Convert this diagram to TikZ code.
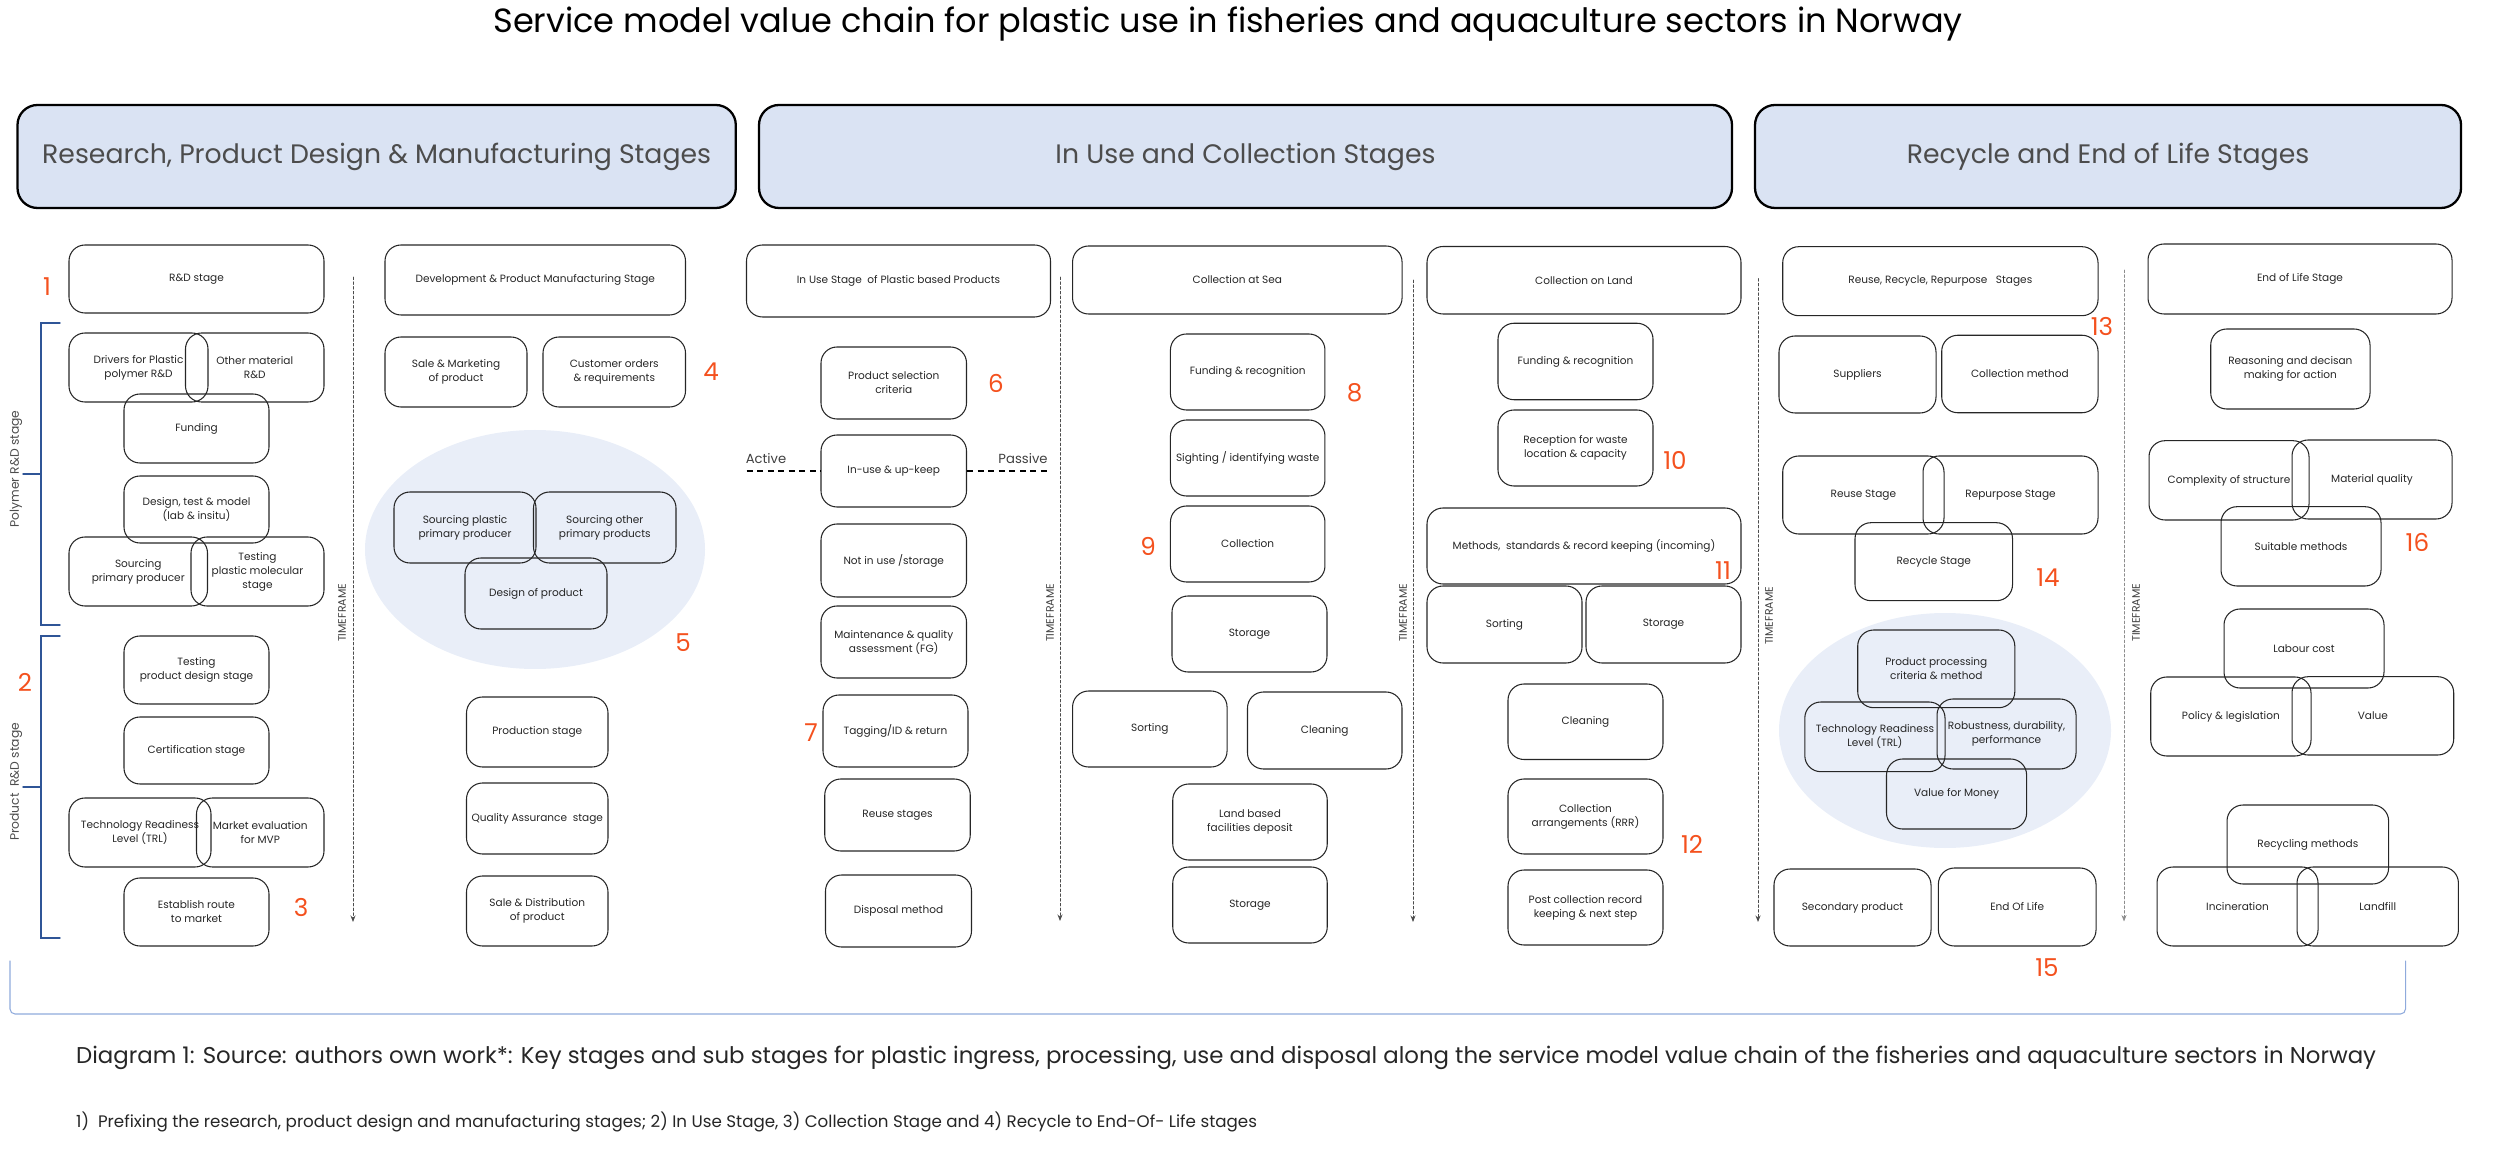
\documentclass[tikz,border=0pt]{standalone}
\usepackage{fontspec}
\setmainfont{Poppins}
\usepackage{tikz}
\usetikzlibrary{arrows.meta}
\usepackage{xcolor}
\definecolor{headfill}{HTML}{DAE3F3}
\definecolor{ovalfill}{HTML}{E9EEF8}
\definecolor{numred}{HTML}{F4511E}
\definecolor{braceblue}{HTML}{2F5597}
\definecolor{baseblue}{HTML}{8FAADC}

\begin{document}
\begin{tikzpicture}[>={Stealth[length=1.3mm,width=1mm]},line cap=round,
  stagebox/.style={draw=black!85,line width=0.6pt,rounded corners=0.32cm,align=center,text=black!85,font=\fontsize{6}{8}\selectfont,inner sep=1pt},
  headbox/.style={draw=black,line width=1.3pt,fill=headfill,rounded corners=0.4cm,text=black!70,font=\fontsize{15.2}{18}\selectfont},
  num/.style={text=numred,font=\fontsize{14}{16}\selectfont},
  timeline/.style={black!70,line width=0.45pt,dash pattern=on 1.5pt off 1.2pt},
  tflabel/.style={rotate=90,text=black!75,font=\fontsize{6.2}{8}\selectfont},
  sidelabel/.style={rotate=90,text=black!70,font=\fontsize{7}{8}\selectfont}]
\useasboundingbox (0,0) rectangle (50,23.14);
\node[anchor=base,font=\fontsize{19.1}{23}\selectfont] (title) at (24.56,22.48) {Service model value chain for plastic use in fisheries and aquaculture sectors in Norway};
\node[headbox,minimum width=14.366cm,minimum height=2.06cm] (hdresearch) at (7.533,20.01) {Research, Product Design \& Manufacturing Stages};
\node[headbox,minimum width=19.46cm,minimum height=2.06cm] (hdinuse) at (24.91,20.01) {In Use and Collection Stages};
\node[headbox,minimum width=14.12cm,minimum height=2.06cm] (hdrecycle) at (42.16,20.01) {Recycle and End of Life Stages};
% R&D column
\node[stagebox,minimum width=5.10cm,minimum height=1.36cm] (rd) at (3.93,17.56) {R\&D stage};
\node[stagebox,minimum width=2.78cm,minimum height=1.38cm] (drivers) at (2.77,15.79) {Drivers for Plastic\\polymer R\&D};
\node[stagebox,minimum width=2.77cm,minimum height=1.38cm] (othermat) at (5.095,15.79) {Other material\\R\&D};
\node[stagebox,minimum width=2.90cm,minimum height=1.38cm] (funding) at (3.93,14.57) {Funding};
\node[stagebox,minimum width=2.90cm,minimum height=1.34cm] (designtest) at (3.93,12.95) {Design, test \& model\\(lab \& insitu)};
\node[stagebox,minimum width=2.77cm,minimum height=1.38cm] (sourcing) at (2.765,11.71) {Sourcing\\primary producer};
\node[stagebox,minimum width=2.66cm,minimum height=1.38cm] (testmol) at (5.15,11.71) {Testing\\plastic molecular\\stage};
\node[stagebox,minimum width=2.90cm,minimum height=1.36cm] (testprod) at (3.93,9.74) {Testing\\product design stage};
\node[stagebox,minimum width=2.90cm,minimum height=1.34cm] (cert) at (3.93,8.13) {Certification stage};
\node[stagebox,minimum width=2.84cm,minimum height=1.38cm] (trl) at (2.80,6.49) {Technology Readiness\\Level (TRL)};
\node[stagebox,minimum width=2.55cm,minimum height=1.38cm] (market) at (5.205,6.49) {Market evaluation\\for MVP};
\node[stagebox,minimum width=2.90cm,minimum height=1.36cm] (route) at (3.93,4.90) {Establish route\\to market};
\node[num] (n1) at (0.94,17.40) {1};
\node[num] (n2) at (0.50,9.50) {2};
\node[num] (n3) at (6.02,5.00) {3};
\draw[braceblue,line width=0.8pt] (1.20,16.68) -- (0.82,16.68) -- (0.82,10.64) -- (1.20,10.64);
\draw[braceblue,line width=0.8pt] (0.46,13.66) -- (0.82,13.66);
\draw[braceblue,line width=0.8pt] (1.20,10.42) -- (0.82,10.42) -- (0.82,4.38) -- (1.20,4.38);
\draw[braceblue,line width=0.8pt] (0.46,7.40) -- (0.82,7.40);
\node[sidelabel] (polymerlab) at (0.32,13.76) {Polymer R\&D stage};
\node[sidelabel] (productlab) at (0.32,7.50) {Product\ \ R\&D stage};
% Development column
\node[stagebox,minimum width=6.01cm,minimum height=1.40cm] (dev) at (10.705,17.54) {Development \& Product Manufacturing Stage};
\node[stagebox,minimum width=2.84cm,minimum height=1.40cm] (salemkt) at (9.12,15.70) {Sale \& Marketing\\of product};
\node[stagebox,minimum width=2.85cm,minimum height=1.40cm] (orders) at (12.285,15.70) {Customer orders\\\& requirements};
\node[num] (n4) at (14.22,15.70) {4};
\fill[ovalfill] (10.70,12.15) ellipse (3.40 and 2.39);
\node[stagebox,minimum width=2.84cm,minimum height=1.42cm] (srcplastic) at (9.30,12.59) {Sourcing plastic\\primary producer};
\node[stagebox,minimum width=2.85cm,minimum height=1.42cm] (srcother) at (12.095,12.59) {Sourcing other\\primary products};
\node[stagebox,minimum width=2.84cm,minimum height=1.42cm] (designprod) at (10.72,11.27) {Design of product};
\node[num] (n5) at (13.66,10.28) {5};
\node[stagebox,minimum width=2.83cm,minimum height=1.40cm] (production) at (10.745,8.50) {Production stage};
\node[stagebox,minimum width=2.83cm,minimum height=1.42cm] (quality) at (10.745,6.77) {Quality Assurance\ \ stage};
\node[stagebox,minimum width=2.83cm,minimum height=1.40cm] (saledist) at (10.745,4.92) {Sale \& Distribution\\of product};
% In use column
\node[stagebox,minimum width=6.08cm,minimum height=1.44cm] (inuse) at (17.97,17.52) {In Use Stage\ \ of Plastic based Products};
\node[stagebox,minimum width=2.91cm,minimum height=1.44cm] (prodsel) at (17.875,15.48) {Product selection\\criteria};
\node[num] (n6) at (19.92,15.48) {6};
\node[stagebox,minimum width=2.91cm,minimum height=1.44cm] (upkeep) at (17.875,13.72) {In-use \& up-keep};
\node[stagebox,minimum width=2.91cm,minimum height=1.46cm] (notinuse) at (17.875,11.93) {Not in use /storage};
\node[stagebox,minimum width=2.91cm,minimum height=1.44cm] (maint) at (17.875,10.30) {Maintenance \& quality\\assessment (FG)};
\node[stagebox,minimum width=2.90cm,minimum height=1.44cm] (tagging) at (17.91,8.52) {Tagging/ID \& return};
\node[num] (n7) at (16.22,8.48) {7};
\node[stagebox,minimum width=2.91cm,minimum height=1.44cm] (reusest) at (17.95,6.84) {Reuse stages};
\node[stagebox,minimum width=2.92cm,minimum height=1.44cm] (disposal) at (17.97,4.92) {Disposal method};
\node[text=black!75,font=\fontsize{7.5}{9}\selectfont] (active) at (15.32,13.96) {Active};
\node[text=black!75,font=\fontsize{7.5}{9}\selectfont] (passive) at (20.46,13.96) {Passive};
\coordinate (actend) at (14.93,13.72);
\coordinate (pasend) at (21.01,13.72);
\draw[line width=0.8pt,dash pattern=on 3.5pt off 2.5pt,line cap=butt] (actend) -- (upkeep.west);
\draw[line width=0.8pt,dash pattern=on 3.5pt off 2.5pt,line cap=butt] (upkeep.east) -- (pasend);
% Collection at sea column
\node[stagebox,minimum width=6.59cm,minimum height=1.36cm] (sea) at (24.746,17.54) {Collection at Sea};
\node[stagebox,minimum width=3.09cm,minimum height=1.52cm] (fundsea) at (24.954,15.70) {Funding \& recognition};
\node[num] (n8) at (27.09,15.28) {8};
\node[stagebox,minimum width=3.09cm,minimum height=1.52cm] (sighting) at (24.954,13.98) {Sighting / identifying waste};
\node[stagebox,minimum width=3.09cm,minimum height=1.52cm] (collect) at (24.954,12.26) {Collection};
\node[num] (n9) at (22.96,12.22) {9};
\node[stagebox,minimum width=3.10cm,minimum height=1.52cm] (storesea) at (24.99,10.46) {Storage};
\node[stagebox,minimum width=3.09cm,minimum height=1.52cm] (sortsea) at (22.996,8.56) {Sorting};
\node[stagebox,minimum width=3.09cm,minimum height=1.54cm] (cleansea) at (26.495,8.53) {Cleaning};
\node[stagebox,minimum width=3.09cm,minimum height=1.52cm] (landdep) at (25.00,6.70) {Land based\\facilities deposit};
\node[stagebox,minimum width=3.09cm,minimum height=1.52cm] (storedep) at (25.00,5.04) {Storage};
% Collection on land column
\node[stagebox,minimum width=6.28cm,minimum height=1.35cm] (land) at (31.68,17.535) {Collection on Land};
\node[stagebox,minimum width=3.10cm,minimum height=1.53cm] (fundland) at (31.51,15.91) {Funding \& recognition};
\node[stagebox,minimum width=3.10cm,minimum height=1.52cm] (reception) at (31.51,14.18) {Reception for waste\\location \& capacity};
\node[num] (n10) at (33.50,13.94) {10};
\node[stagebox,minimum width=6.28cm,minimum height=1.52cm] (methods) at (31.68,12.22) {Methods,\ \ standards \& record keeping (incoming)};
\node[num] (n11) at (34.46,11.72) {11};
\node[stagebox,minimum width=3.10cm,minimum height=1.54cm] (sortland) at (30.09,10.65) {Sorting};
\node[stagebox,minimum width=3.10cm,minimum height=1.54cm] (storeland) at (33.27,10.65) {Storage};
\node[stagebox,minimum width=3.10cm,minimum height=1.51cm] (cleanland) at (31.71,8.705) {Cleaning};
\node[stagebox,minimum width=3.10cm,minimum height=1.50cm] (arrange) at (31.71,6.81) {Collection\\arrangements (RRR)};
\node[num] (n12) at (33.84,6.26) {12};
\node[stagebox,minimum width=3.10cm,minimum height=1.50cm] (postrec) at (31.71,4.99) {Post collection record\\keeping \& next step};
% Reuse, recycle, repurpose column
\node[stagebox,minimum width=6.306cm,minimum height=1.38cm] (rrr) at (38.807,17.516) {Reuse, Recycle, Repurpose\ \ \ Stages};
\node[num] (n13) at (42.04,16.606) {13};
\node[stagebox,minimum width=3.14cm,minimum height=1.54cm] (suppliers) at (37.15,15.65) {Suppliers};
\node[stagebox,minimum width=3.126cm,minimum height=1.55cm] (collmethod) at (40.397,15.66) {Collection method};
\node[stagebox,minimum width=3.226cm,minimum height=1.56cm] (reusestage) at (37.267,13.24) {Reuse Stage};
\node[stagebox,minimum width=3.50cm,minimum height=1.56cm] (repurpose) at (40.21,13.24) {Repurpose Stage};
\node[stagebox,minimum width=3.15cm,minimum height=1.56cm] (recycle) at (38.675,11.906) {Recycle Stage};
\node[num] (n14) at (40.96,11.586) {14};
\fill[ovalfill] (38.90,8.53) ellipse (3.32 and 2.35);
\node[stagebox,minimum width=3.142cm,minimum height=1.554cm] (procrit) at (38.725,9.763) {Product processing\\criteria \& method};
\node[stagebox,minimum width=2.804cm,minimum height=1.394cm] (trlrec) at (37.498,8.403) {Technology Readiness\\Level (TRL)};
\node[stagebox,minimum width=2.78cm,minimum height=1.40cm] (robust) at (40.13,8.46) {Robustness, durability,\\performance};
\node[stagebox,minimum width=2.802cm,minimum height=1.40cm] (vfm) at (39.131,7.26) {Value for Money};
\node[stagebox,minimum width=3.14cm,minimum height=1.54cm] (secondary) at (37.05,4.99) {Secondary product};
\node[stagebox,minimum width=3.152cm,minimum height=1.56cm] (endlife) at (40.344,5.00) {End Of Life};
\node[num] (n15) at (40.94,3.78) {15};
% End of life column
\node[stagebox,minimum width=6.08cm,minimum height=1.40cm] (eol) at (46.00,17.56) {End of Life Stage};
\node[stagebox,minimum width=3.186cm,minimum height=1.60cm] (reasoning) at (45.807,15.76) {Reasoning and decisan\\making for action};
\node[stagebox,minimum width=3.20cm,minimum height=1.586cm] (complexity) at (44.58,13.533) {Complexity of structure};
\node[stagebox,minimum width=3.20cm,minimum height=1.58cm] (matqual) at (47.44,13.55) {Material quality};
\node[stagebox,minimum width=3.20cm,minimum height=1.586cm] (suitable) at (46.02,12.213) {Suitable methods};
\node[num] (n16) at (48.348,12.286) {16};
\node[stagebox,minimum width=3.20cm,minimum height=1.58cm] (labour) at (46.08,10.17) {Labour cost};
\node[stagebox,minimum width=3.206cm,minimum height=1.58cm] (policy) at (44.617,8.81) {Policy \& legislation};
\node[stagebox,minimum width=3.234cm,minimum height=1.566cm] (value) at (47.457,8.823) {Value};
\node[stagebox,minimum width=3.232cm,minimum height=1.58cm] (recmethods) at (46.156,6.25) {Recycling methods};
\node[stagebox,minimum width=3.22cm,minimum height=1.58cm] (incineration) at (44.75,5.01) {Incineration};
\node[stagebox,minimum width=3.228cm,minimum height=1.58cm] (landfill) at (47.554,5.01) {Landfill};
% timeframes
\draw[timeline,->] (7.06,17.60) -- (7.06,4.70);
\node[tflabel] (tf1) at (6.84,10.88) {TIMEFRAME};
\draw[timeline,->] (21.20,17.60) -- (21.20,4.72);
\node[tflabel] (tf2) at (21.00,10.88) {TIMEFRAME};
\draw[timeline,->] (28.26,17.54) -- (28.26,4.70);
\node[tflabel] (tf3) at (28.06,10.88) {TIMEFRAME};
\draw[timeline,->] (35.16,17.57) -- (35.16,4.70);
\node[tflabel] (tf4) at (35.38,10.82) {TIMEFRAME};
\draw[timeline,black!45,->] (42.48,17.74) -- (42.48,4.71);
\node[tflabel] (tf5) at (42.72,10.886) {TIMEFRAME};
% base bracket
\draw[baseblue,line width=0.6pt,rounded corners=0.1cm] (0.20,3.92) -- (0.20,2.86) -- (48.11,2.86) -- (48.11,3.92);
\node[anchor=west,text=black!85,font=\fontsize{13}{15}\selectfont] (caption) at (1.40,1.98) {Diagram 1: Source: authors own work*: Key stages and sub stages for plastic ingress, processing, use and disposal along the service model value chain of the fisheries and aquaculture sectors in Norway};
\node[anchor=west,text=black!85,font=\fontsize{9.5}{11}\selectfont] (note) at (1.40,0.70) {1)\ \ Prefixing the research, product design and manufacturing stages; 2) In Use Stage, 3) Collection Stage and 4) Recycle to End-Of- Life stages};
\end{tikzpicture}
\end{document}
